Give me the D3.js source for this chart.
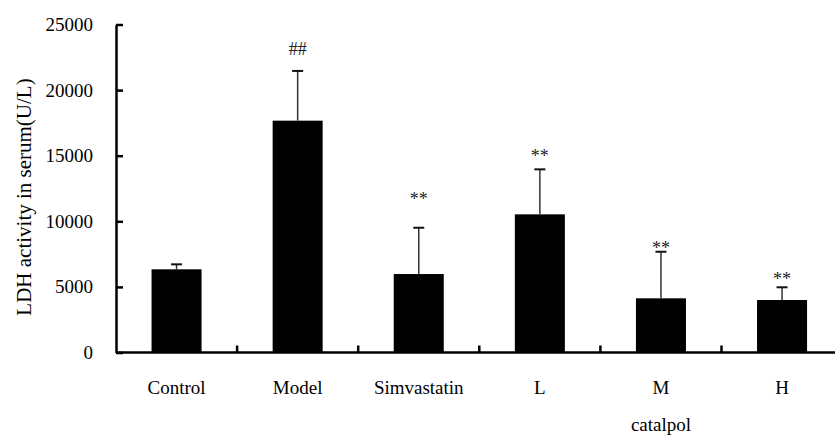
<!DOCTYPE html>
<html>
<head>
<meta charset="utf-8">
<script src="https://cdn.jsdelivr.net/npm/d3@7"></script>
<style>
	body { margin: 0; background: #fff; }
	svg { display: block; }
	text { font-family: "Liberation Serif", "Times New Roman", serif; fill: #000; }
</style>
</head>
<body>
<div class="container"></div>
<script>
// LDH bar chart data
var groups = ['Control', 'Model', 'Simvastatin', 'L', 'M', 'H'];
var means = [6340, 17670, 5980, 10530, 4130, 4000];
var errors = [380, 3790, 3530, 3430, 3550, 970];
var marks = ['', '##', '**', '**', '**', '**'];
var markAt = [0, 22680, 11240, 14520, 7510, 5140];
var yTicks = [0, 5000, 10000, 15000, 20000, 25000];

var width = 835, height = 436;

var svg = d3.select('.container')
.append('svg')
.attr('width', width)
.attr('height', height);

var y = d3.scaleLinear()
.domain([0, 25000])
.range([352.5, 24.5]);

var x = d3.scaleBand()
.domain(groups)
.range([116, 842.6])
.paddingInner(0.587)
.paddingOuter(0.2935);

// bars
svg.selectAll('rect.bar')
.data(groups)
.enter().append('rect')
.attr('class', 'bar')
.attr('fill', '#000')
.attr('x', d => x(d))
.attr('width', x.bandwidth())
.attr('y', (d, i) => y(means[i]))
.attr('height', (d, i) => y(0) - y(means[i]));

// error bars (upper only)
var err = svg.append('g').attr('stroke', '#333').attr('stroke-width', 1.5);
groups.forEach(function (g, i) {
	var cx = x(g) + x.bandwidth() / 2;
	err.append('line')
	.attr('x1', cx).attr('x2', cx)
	.attr('y1', y(means[i])).attr('y2', y(means[i] + errors[i]));
	err.append('line')
	.attr('x1', cx - 5.5).attr('x2', cx + 5.5)
	.attr('y1', y(means[i] + errors[i])).attr('y2', y(means[i] + errors[i]))
	.attr('stroke', '#111').attr('stroke-width', 2);
});

// significance marks
svg.selectAll('text.mark')
.data(groups)
.enter().append('text')
.attr('class', 'mark')
.attr('x', d => x(d) + x.bandwidth() / 2)
.attr('y', (d, i) => y(markAt[i]))
.attr('text-anchor', 'middle')
.style('font-size', '18px')
.style('fill', '#222')
.text((d, i) => marks[i]);

// y axis
var yAxis = d3.axisLeft(y)
.tickValues(yTicks)
.tickFormat(d3.format('d'))
.tickSizeInner(-7)
.tickSizeOuter(0)
.tickPadding(23);

var ya = svg.append('g')
.attr('transform', 'translate(116,0)')
.call(yAxis);
ya.select('.domain').attr('stroke', '#000').attr('stroke-width', 2.5);
ya.selectAll('.tick line').attr('stroke', '#000').attr('stroke-width', 2.5);
ya.selectAll('.tick text')
.style('font-family', '"Liberation Serif", serif')
.style('font-size', '19px')
.attr('fill', '#000');

// x axis line + boundary ticks
svg.append('line')
.attr('x1', 116).attr('x2', 843)
.attr('y1', y(0)).attr('y2', y(0))
.attr('stroke', '#000').attr('stroke-width', 2.5);

var step = x.step();
groups.slice(0, -1).forEach(function (g) {
	var bx = x(g) + x.bandwidth() / 2 + step / 2;
	svg.append('line')
	.attr('x1', bx).attr('x2', bx)
	.attr('y1', y(0)).attr('y2', y(0) - 7)
	.attr('stroke', '#000').attr('stroke-width', 2.5);
});

// category labels
svg.selectAll('text.cat')
.data(groups)
.enter().append('text')
.attr('class', 'cat')
.attr('x', d => x(d) + x.bandwidth() / 2)
.attr('y', 394)
.attr('text-anchor', 'middle')
.style('font-size', '19px')
.text(d => d);

svg.append('text')
.attr('x', x('M') + x.bandwidth() / 2)
.attr('y', 431)
.attr('text-anchor', 'middle')
.style('font-size', '19px')
.text('catalpol');

// y axis title
svg.append('text')
.attr('transform', 'translate(24,197) rotate(-90)')
.attr('text-anchor', 'middle')
.attr('dominant-baseline', 'central')
.style('font-size', '21px')
.text('LDH activity in serum(U/L)');
</script>
</body>
</html>
